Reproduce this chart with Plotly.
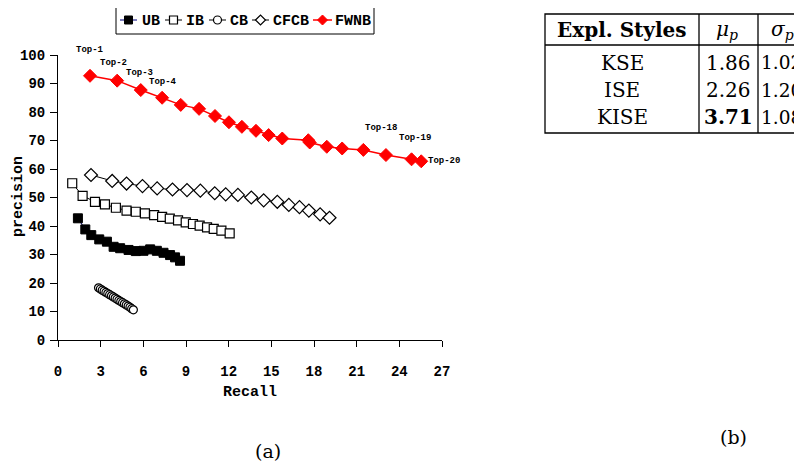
import plotly.graph_objects as go

# ---------------- data ----------------
ub_recall = [1.40, 1.92, 2.34, 2.90, 3.44, 3.91, 4.37, 4.96, 5.47, 6.01, 6.48, 6.95, 7.42, 7.88, 8.23, 8.58]
ub_precision = [42.7, 38.8, 36.8, 35.3, 34.5, 32.7, 32.2, 31.6, 31.2, 31.3, 31.8, 31.3, 30.6, 29.8, 29.0, 27.8]

ib_recall = [1.00, 1.73, 2.60, 3.30, 4.07, 4.82, 5.47, 6.11, 6.76, 7.32, 7.86, 8.44, 8.98, 9.49, 9.96, 10.48, 10.95, 11.49, 12.07]
ib_precision = [55.0, 50.6, 48.5, 47.6, 46.4, 45.4, 45.0, 44.4, 43.8, 43.2, 42.6, 42.0, 41.3, 40.7, 40.1, 39.5, 39.0, 38.4, 37.4]

cb_recall = [2.85, 2.98, 3.11, 3.24, 3.37, 3.50, 3.63, 3.76, 3.89, 4.02, 4.15, 4.28, 4.41, 4.54, 4.67, 4.80, 4.93, 5.06, 5.18, 5.30]
cb_precision = [18.3, 17.9, 17.5, 17.1, 16.7, 16.3, 15.9, 15.5, 15.1, 14.7, 14.3, 13.9, 13.5, 13.1, 12.7, 12.3, 11.9, 11.5, 11.0, 10.6]

cfcb_recall = [2.32, 3.81, 4.82, 5.94, 6.97, 8.05, 9.07, 10.01, 11.02, 11.79, 12.65, 13.59, 14.46, 15.42, 16.23, 16.98, 17.64, 18.43, 19.09]
cfcb_precision = [57.9, 55.8, 54.9, 54.0, 53.2, 52.8, 52.6, 52.4, 51.5, 51.1, 50.9, 50.0, 49.0, 48.5, 47.4, 46.6, 45.4, 44.1, 42.9]

fwnb_recall = [2.25, 4.16, 5.82, 7.32, 8.63, 9.92, 11.04, 12.02, 12.93, 13.92, 14.81, 15.77, 17.60, 17.70, 18.90, 19.98, 21.47, 23.06, 24.86, 25.54]
fwnb_precision = [92.7, 91.0, 87.7, 85.0, 82.5, 81.1, 78.6, 76.4, 74.8, 73.4, 71.9, 70.7, 70.1, 69.3, 67.8, 67.2, 66.7, 64.9, 63.4, 62.7]

series_names = ["UB", "IB", "CB", "CFCB", "FWNB"]

top_labels = ["Top-1", "Top-2", "Top-3", "Top-4", "Top-18", "Top-19", "Top-20"]
top_index = [0, 1, 2, 3, 17, 18, 19]

x_ticks = [0, 3, 6, 9, 12, 15, 18, 21, 24, 27]
y_ticks = [0, 10, 20, 30, 40, 50, 60, 70, 80, 90, 100]

table_header = ["Expl. Styles", "<i>μ<sub>p</sub></i>", "<i>σ<sub>p</sub></i>"]
table_styles = ["KSE", "ISE", "KISE"]
table_mu = ["1.86", "2.26", "<b>3.71</b>"]
table_sigma = ["1.02", "1.20", "1.08"]

# ---------------- layout helpers ----------------
# The page has an 8px body margin; the figure is sized so it ends at the window edge.
OFF = 8
W, H = 802 - OFF, 462 - OFF
PLOT_L, PLOT_R, PLOT_T, PLOT_B = 58, 442, 55, 340   # plot area in window pixels
PW, PH = PLOT_R - PLOT_L, PLOT_B - PLOT_T


def px_x(p):
    return (p - PLOT_L) / PW


def px_y(p):
    return (PLOT_B - p) / PH


MONO = "Liberation Mono"
SERIF = "DejaVu Serif"

styles = [
    dict(line=dict(color="#000080", width=1),
         marker=dict(symbol="square", size=9, color="black", line=dict(color="black", width=1))),
    dict(line=dict(color="black", width=1),
         marker=dict(symbol="square", size=9, color="white", line=dict(color="black", width=1.2))),
    dict(line=dict(color="black", width=1),
         marker=dict(symbol="circle", size=8, color="white", line=dict(color="black", width=1.2))),
    dict(line=dict(color="black", width=1),
         marker=dict(symbol="diamond", size=10, color="white", line=dict(color="black", width=1.2))),
    dict(line=dict(color="red", width=1.5),
         marker=dict(symbol="diamond", size=10, color="red", line=dict(color="red", width=1))),
]
series = [(ub_recall, ub_precision), (ib_recall, ib_precision), (cb_recall, cb_precision),
          (cfcb_recall, cfcb_precision), (fwnb_recall, fwnb_precision)]

fig = go.Figure()
for name, (xs, ys), st in zip(series_names, series, styles):
    fig.add_trace(go.Scatter(x=xs, y=ys, name=name, mode="lines+markers",
                             showlegend=False, **st))

annotations = []
shapes = []

# Top-k labels
label_shift = [(0, 26), (-4, 18), (-1, 17), (1, 16), (-5, 27), (3, 21), (23, 0)]
for lab, idx, (dx, dy) in zip(top_labels, top_index, label_shift):
    annotations.append(dict(
        x=fwnb_recall[idx], y=fwnb_precision[idx], xref="x", yref="y",
        text="<b>" + lab + "</b>", showarrow=False, xshift=dx, yshift=dy,
        xanchor="center", yanchor="middle",
        font=dict(family=MONO, size=9, color="black"),
    ))


def text_at(x, y, text, font, xanchor="center", angle=0):
    annotations.append(dict(x=px_x(x), y=px_y(y), xref="paper", yref="paper", text=text,
                            showarrow=False, xanchor=xanchor, yanchor="middle",
                            textangle=angle, font=font))


def line_at(x0, y0, x1, y1, color="black", width=1.0):
    shapes.append(dict(type="line", xref="paper", yref="paper",
                       x0=px_x(x0), x1=px_x(x1), y0=px_y(y0), y1=px_y(y1),
                       line=dict(color=color, width=width)))


# axis titles
text_at(250, 392, "<b>Recall</b>", dict(family=MONO, size=15, color="black"))
text_at(18, 197, "<b>precision</b>", dict(family=MONO, size=15, color="black"), angle=-90)

# captions
text_at(268, 451, "(a)", dict(family=SERIF, size=19, color="black"))
text_at(733, 437, "(b)", dict(family=SERIF, size=19, color="black"))

# ---------------- legend (boxed, compact) ----------------
shapes.append(dict(type="rect", xref="paper", yref="paper",
                   x0=px_x(116), x1=px_x(374), y0=px_y(34), y1=px_y(6),
                   line=dict(color="black", width=1), fillcolor="white"))
leg_y = 20
leg_items = [  # (line start, line end, text start)
    (120, 137, 140),
    (165, 182, 184),
    (209, 226, 228),
    (252, 269, 271),
    (313, 332, 333),
]
for name, st, (ls, le, tx) in zip(series_names, styles, leg_items):
    lc = st["line"]["color"]
    line_at(ls, leg_y, le, leg_y, color=lc, width=st["line"]["width"])
    cx = (ls + le) / 2
    mk = st["marker"]
    fill = mk["color"]
    mline = dict(color=mk["line"]["color"], width=mk["line"]["width"])
    if mk["symbol"] == "square":
        r = 4
        shapes.append(dict(type="rect", xref="paper", yref="paper",
                           x0=px_x(cx - r), x1=px_x(cx + r), y0=px_y(leg_y + r), y1=px_y(leg_y - r),
                           fillcolor=fill, line=mline))
    elif mk["symbol"] == "circle":
        r = 4
        shapes.append(dict(type="circle", xref="paper", yref="paper",
                           x0=px_x(cx - r), x1=px_x(cx + r), y0=px_y(leg_y + r), y1=px_y(leg_y - r),
                           fillcolor=fill, line=mline))
    else:
        r = 5
        path = (f"M {px_x(cx - r)},{px_y(leg_y)} L {px_x(cx)},{px_y(leg_y - r)} "
                f"L {px_x(cx + r)},{px_y(leg_y)} L {px_x(cx)},{px_y(leg_y + r)} Z")
        shapes.append(dict(type="path", xref="paper", yref="paper", path=path,
                           fillcolor=fill, line=mline))
    text_at(tx, leg_y + 1, "<b>" + name + "</b>", dict(family=MONO, size=15, color="black"),
            xanchor="left")

# ---------------- table (b) ----------------
tl, tr, tt, tb = 545, 830, 14, 133
shapes.append(dict(type="rect", xref="paper", yref="paper",
                   x0=px_x(tl), x1=px_x(tr), y0=px_y(tb), y1=px_y(tt),
                   line=dict(color="black", width=1.3)))
line_at(tl, 45, tr, 45, width=1.3)
for vx in (699, 758):
    line_at(vx, tt, vx, tb, width=1.3)

tfont = dict(family=SERIF, size=20, color="black")
sfont = dict(family=SERIF, size=18.5, color="black")
text_at(622, 30, "<b>" + table_header[0] + "</b>", tfont)
text_at(727, 30, table_header[1], tfont)
text_at(782, 30, table_header[2], tfont)
row_y = [63, 90, 117]
for s, m, sg, ry in zip(table_styles, table_mu, table_sigma, row_y):
    text_at(622, ry, s, tfont)
    text_at(728, ry, m, tfont)
    text_at(759, ry, sg, sfont, xanchor="left")

fig.update_layout(
    width=W, height=H,
    margin=dict(l=PLOT_L - OFF, r=W - (PLOT_R - OFF), t=PLOT_T - OFF, b=H - (PLOT_B - OFF),
                pad=0, autoexpand=False),
    paper_bgcolor="white", plot_bgcolor="white",
    showlegend=False,
    xaxis=dict(
        range=[0, 27], tickvals=x_ticks, ticktext=[f"<b>{v}</b>" for v in x_ticks],
        showgrid=False, zeroline=False, showline=True, linecolor="black", linewidth=1,
        ticks="outside", ticklen=6, tickcolor="black", ticklabelstandoff=12,
        tickfont=dict(family=MONO, size=14, color="black"),
    ),
    yaxis=dict(
        range=[0, 100], tickvals=y_ticks, ticktext=[f"<b>{v}</b>" for v in y_ticks],
        showgrid=False, zeroline=False, showline=True, linecolor="black", linewidth=1,
        ticks="outside", ticklen=7, tickcolor="black", ticklabelstandoff=2,
        tickfont=dict(family=MONO, size=14, color="black"),
    ),
    annotations=annotations,
    shapes=shapes,
)

fig.write_html("out.html")
